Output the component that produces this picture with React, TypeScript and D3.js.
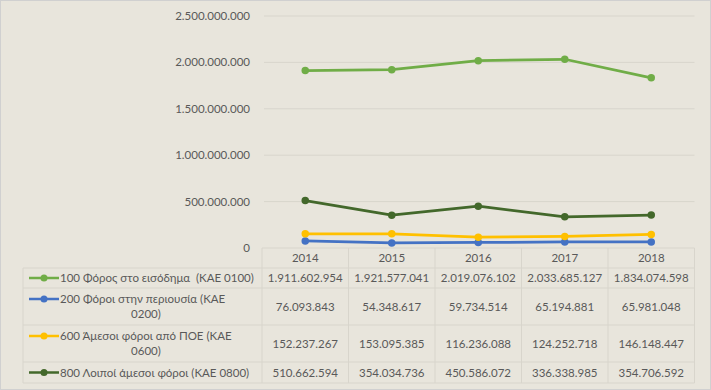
import React from 'react';
import * as d3 from 'd3';

const years = ['2014', '2015', '2016', '2017', '2018'];

const seriesLabels = [
  ['100 Φόρος στο εισόδημα  (ΚΑΕ 0100)'],
  ['200 Φόροι στην περιουσία (ΚΑΕ', '0200)'],
  ['600 Άμεσοι φόροι από ΠΟΕ (ΚΑΕ', '0600)'],
  ['800 Λοιποί άμεσοι φόροι (ΚΑΕ 0800)'],
];

const seriesColors = ['#70ad47', '#4472c4', '#ffc000', '#43682b'];

const incomeTax = [1911602954, 1921577041, 2019076102, 2033685127, 1834074598];
const propertyTax = [76093843, 54348617, 59734514, 65194881, 65981048];
const poeTax = [152237267, 153095385, 116236088, 124252718, 146148447];
const otherTax = [510662594, 354034736, 450586072, 336338985, 354706592];

const seriesValues = [incomeTax, propertyTax, poeTax, otherTax];

const yTicks = [0, 500000000, 1000000000, 1500000000, 2000000000, 2500000000];

const width = 711;
const height = 390;
const font = 'Lato, "Open Sans", sans-serif';
const textColor = '#595959';
const gridColor = '#d8d5cc';

// table rows (top of each row + bottom)
const rowEdges = [268, 288, 325, 362, 383];
const tableLeft = 23;

const grLocale = d3.formatLocale({
  decimal: ',',
  thousands: '.',
  grouping: [3],
  currency: ['', '€'],
});
const fmt = grLocale.format(',d');

export default function App() {
  const x = d3.scaleBand<string>().domain(years).range([262, 694.5]);
  const y = d3.scaleLinear().domain([0, 2500000000]).range([248, 16]);

  const line = d3
    .line<number>()
    .x((_, i) => x(years[i])! + x.bandwidth() / 2)
    .y((d) => y(d));

  return (
    <svg
      width={width}
      height={height}
      style={{ position: 'absolute', left: 0, top: 0, fontFamily: font }}
    >
      <rect x={0.5} y={0.5} width={width - 1} height={height - 1} fill="#e8e5dc" stroke="#d0d0d0" />

      {/* gridlines + y labels */}
      {yTicks.map((t) => (
        <g key={t}>
          {t > 0 && (
            <line x1={264} x2={694.5} y1={y(t)} y2={y(t)} stroke={gridColor} strokeWidth={1} />
          )}
          <text
            x={250}
            y={y(t)}
            dy="0.35em"
            textAnchor="end"
            fontSize={11.5}
            fill={textColor}
          >
            {fmt(t)}
          </text>
        </g>
      ))}

      {/* data table */}
      <g stroke={gridColor} strokeWidth={1} fill="none">
        <line x1={262} x2={694.5} y1={y(0)} y2={y(0)} />
        {rowEdges.map((r) => (
          <line key={r} x1={tableLeft} x2={694.5} y1={r} y2={r} />
        ))}
        <line x1={tableLeft} x2={tableLeft} y1={rowEdges[0]} y2={rowEdges[rowEdges.length - 1]} />
        {years.map((yr) => (
          <line
            key={yr}
            x1={x(yr)!}
            x2={x(yr)!}
            y1={y(0)}
            y2={rowEdges[rowEdges.length - 1]}
          />
        ))}
        <line x1={694.5} x2={694.5} y1={y(0)} y2={rowEdges[rowEdges.length - 1]} />
      </g>

      {years.map((yr) => (
        <text
          key={yr}
          x={x(yr)! + x.bandwidth() / 2}
          y={258}
          dy="0.35em"
          textAnchor="middle"
          fontSize={11.5}
          fill={textColor}
        >
          {yr}
        </text>
      ))}

      {seriesValues.map((vals, si) => {
        const top = rowEdges[si];
        const bottom = rowEdges[si + 1];
        const mid = (top + bottom) / 2;
        const lines = seriesLabels[si];
        const lineH = 15;
        const firstY = mid - ((lines.length - 1) * lineH) / 2;
        return (
          <g key={si}>
            <line x1={29} x2={59} y1={firstY} y2={firstY} stroke={seriesColors[si]} strokeWidth={2.5} />
            <circle cx={44} cy={firstY} r={3.5} fill={seriesColors[si]} />
            {lines.map((l, li) => (
              <text
                key={li}
                x={li === 0 ? 60 : 146}
                y={firstY + li * lineH}
                dy="0.35em"
                textAnchor={li === 0 ? 'start' : 'middle'}
                fontSize={11.5}
                fill={textColor}
                style={{ whiteSpace: 'pre' }}
              >
                {l}
              </text>
            ))}
            {vals.map((v, i) => (
              <text
                key={i}
                x={x(years[i])! + x.bandwidth() / 2}
                y={mid}
                dy="0.35em"
                textAnchor="middle"
                fontSize={11.5}
                fill={textColor}
              >
                {fmt(v)}
              </text>
            ))}
          </g>
        );
      })}

      {/* lines: draw in reverse so income is on top */}
      {seriesValues.map((vals, si) => (
        <g key={si}>
          <path
            d={line(vals)!}
            fill="none"
            stroke={seriesColors[si]}
            strokeWidth={2.75}
            strokeLinejoin="round"
          />
          {vals.map((v, i) => (
            <circle
              key={i}
              cx={x(years[i])! + x.bandwidth() / 2}
              cy={y(v)}
              r={3.75}
              fill={seriesColors[si]}
            />
          ))}
        </g>
      ))}
    </svg>
  );
}
